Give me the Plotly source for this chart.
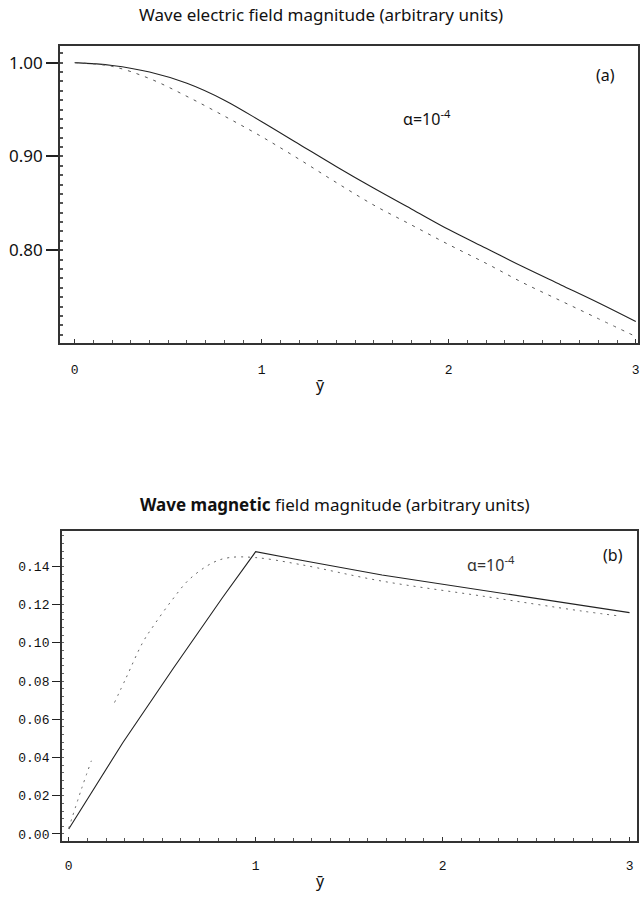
import plotly.graph_objects as go

# ---- Panel (a): wave electric field magnitude ----
xa = [0.0, 0.2, 0.4, 0.6, 0.8, 1.0, 1.2, 1.4, 1.6, 1.8, 2.0, 2.2, 2.4, 2.6, 2.8, 3.0]
ea_solid = [1.000, 0.997, 0.990, 0.978, 0.960, 0.937, 0.913, 0.889, 0.866, 0.844,
            0.822, 0.802, 0.782, 0.763, 0.744, 0.724]
ea_dotted = [1.000, 0.996, 0.983, 0.964, 0.943, 0.921, 0.897, 0.872, 0.848, 0.827,
             0.806, 0.786, 0.765, 0.746, 0.727, 0.708]

# ---- Panel (b): wave magnetic field magnitude ----
xb_solid = [0.0, 0.29, 0.556, 0.823, 1.0, 1.214, 1.676, 2.21, 2.74, 3.0]
bb_solid = [0.0026, 0.0479, 0.0862, 0.1237, 0.1477, 0.1437, 0.1355, 0.1275, 0.1193, 0.1158]
xb_dotted = [0.0, 0.068, 0.121, None, 0.245, 0.308, 0.396, 0.459, 0.556, 0.645, 0.77,
             0.859, 1.0, 1.232, 1.676, 2.21, 2.74, 2.95]
bb_dotted = [0.003, 0.0235, 0.0383, None, 0.0688, 0.0819, 0.1002, 0.1097, 0.1228, 0.1332,
             0.1419, 0.1446, 0.1446, 0.1411, 0.1323, 0.1245, 0.1167, 0.1140]

xticks = [0, 1, 2, 3]
ya_ticks = [0.80, 0.90, 1.00]
ya_ticktext = ["0.80", "0.90", "1.00"]
yb_ticks = [0.00, 0.02, 0.04, 0.06, 0.08, 0.10, 0.12, 0.14]
yb_ticktext = ["0.00", "0.02", "0.04", "0.06", "0.08", "0.10", "0.12", "0.14"]

W, H = 642, 900
def px(x0, x1):
    return [x0 / W, x1 / W]
def py(top, bottom):
    return [1 - bottom / H, 1 - top / H]

fig = go.Figure()
fig.add_trace(go.Scatter(x=xa, y=ea_solid, mode="lines", line=dict(color="#222", width=1.1),
                         line_shape="spline", xaxis="x", yaxis="y", showlegend=False))
fig.add_trace(go.Scatter(x=xa, y=ea_dotted, mode="lines",
                         line=dict(color="#555", width=1, dash="3px,6px"),
                         line_shape="spline", xaxis="x", yaxis="y", showlegend=False))
fig.add_trace(go.Scatter(x=xb_solid, y=bb_solid, mode="lines", line=dict(color="#222", width=1.1),
                         xaxis="x2", yaxis="y2", showlegend=False))
fig.add_trace(go.Scatter(x=xb_dotted, y=bb_dotted, mode="lines", connectgaps=False,
                         line=dict(color="#666", width=1, dash="2px,5px"),
                         line_shape="spline", xaxis="x2", yaxis="y2", showlegend=False))

title_font = dict(family="Noto Sans, DejaVu Sans", size=17, color="#111")
ax_common = dict(showline=True, linecolor="#333", linewidth=1.5, mirror=True,
                 showgrid=False, zeroline=False)

fig.update_layout(
    width=W, height=H, margin=dict(l=0, r=0, t=0, b=0),
    paper_bgcolor="white", plot_bgcolor="white",
    xaxis=dict(domain=px(60, 640), range=[-0.08, 3.012], anchor="y",
               tickvals=xticks, ticks="inside", ticklen=4, tickcolor="#333",
               tickfont=dict(family="Liberation Mono", size=13, color="#111"),
               minor=dict(dtick=0.1, ticks="inside", ticklen=3, tickcolor="#555"),
               ticklabelstandoff=14, **ax_common),
    yaxis=dict(domain=py(46, 343), range=[0.7015, 1.0178], anchor="x",
               tickvals=ya_ticks, ticktext=ya_ticktext, ticks="outside", ticklen=12,
               tickwidth=1.5, tickcolor="#222",
               tickfont=dict(family="Noto Sans, DejaVu Sans", size=17, color="#111"),
               minor=dict(dtick=0.01, ticks="inside", ticklen=3, tickcolor="#555"),
               **ax_common),
    xaxis2=dict(domain=px(62, 639), range=[-0.037, 3.04], anchor="y2",
                tickvals=xticks, ticks="inside", ticklen=4, tickcolor="#333",
                tickfont=dict(family="Liberation Mono", size=13, color="#111"),
                minor=dict(dtick=0.1, ticks="inside", ticklen=3, tickcolor="#555"),
                ticklabelstandoff=12, **ax_common),
    yaxis2=dict(domain=py(532, 842), range=[-0.0037, 0.1583], anchor="x2",
                tickvals=yb_ticks, ticktext=yb_ticktext, ticks="outside", ticklen=8,
                tickwidth=1.2, tickcolor="#222",
                tickfont=dict(family="Liberation Mono", size=13, color="#111"),
                minor=dict(dtick=0.004, ticks="inside", ticklen=2, tickcolor="#666"),
                **ax_common),
)

annos = [
    dict(text="Wave electric field magnitude (arbitrary units)", xref="paper", yref="paper",
         x=322 / W, y=1 - 15 / H, font=title_font),
    dict(text="<b>Wave magnetic</b> field magnitude (arbitrary units)", xref="paper", yref="paper",
         x=336 / W, y=1 - 505 / H, font=title_font),
    dict(text="ȳ", xref="paper", yref="paper", x=322 / W, y=1 - 385 / H,
         font=dict(family="Noto Sans", size=16, color="#111")),
    dict(text="ȳ", xref="paper", yref="paper", x=322 / W, y=1 - 882 / H,
         font=dict(family="Noto Sans", size=16, color="#111")),
    dict(text="α=10<sup>-4</sup>", xref="x", yref="y", x=1.885, y=0.941,
         font=dict(family="Noto Sans", size=16, color="#111")),
    dict(text="(a)", xref="x", yref="y", x=2.84, y=0.987,
         font=dict(family="Noto Sans", size=16, color="#111")),
    dict(text="α=10<sup>-4</sup>", xref="x2", yref="y2", x=2.26, y=0.141,
         font=dict(family="Noto Sans", size=16, color="#333")),
    dict(text="(b)", xref="x2", yref="y2", x=2.91, y=0.146,
         font=dict(family="Noto Sans", size=16, color="#111")),
]
for a in annos:
    a.update(showarrow=False, xanchor="center", yanchor="middle")
    fig.add_annotation(**a)

fig.write_html("out.html")
